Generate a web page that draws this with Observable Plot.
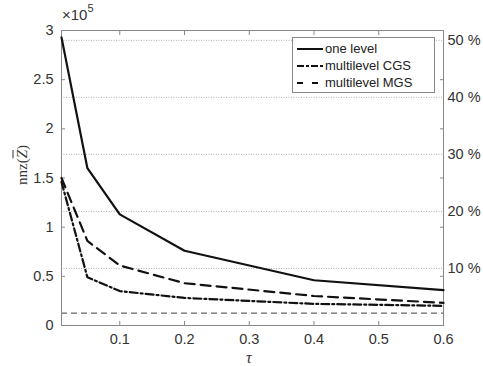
<!DOCTYPE html>
<html><head><meta charset="utf-8">
<script src="https://cdn.jsdelivr.net/npm/d3@7"></script>
<script src="https://cdn.jsdelivr.net/npm/@observablehq/plot@0.6"></script>
<style>
body{margin:0;background:#fff;font-family:"Liberation Sans",Arial,sans-serif;}
#wrap{position:relative;width:483px;height:366px;overflow:hidden;}
#wrap svg.plot{position:absolute;left:0;top:0;}
.ov{position:absolute;color:#333;white-space:nowrap;}
</style></head>
<body><div id="wrap"></div>
<script>
const tau = [0.01, 0.05, 0.1, 0.2, 0.4, 0.6];
const oneLevel = [2.93e5, 1.60e5, 1.13e5, 0.76e5, 0.46e5, 0.36e5];
const multiCGS = [1.46e5, 0.49e5, 0.35e5, 0.28e5, 0.22e5, 0.20e5];
const multiMGS = [1.50e5, 0.86e5, 0.61e5, 0.43e5, 0.30e5, 0.23e5];
const seriesNames = ["one level", "multilevel CGS", "multilevel MGS"];
const refLevel = 0.125e5;
const totalNnz = 5.8e5;
const pctTicks = [10, 20, 30, 40, 50];
const xTicks = [0.1, 0.2, 0.3, 0.4, 0.5, 0.6];
const yTicks = [0, 0.5e5, 1e5, 1.5e5, 2e5, 2.5e5, 3e5];
const yTickLabels = ["0", "0.5", "1", "1.5", "2", "2.5", "3"];

const dashes = [null, "8,3,2,3", "10,6"];
const seriesVals = [oneLevel, multiCGS, multiMGS];
const data = seriesNames.flatMap((s, i) => tau.map((t, j) => ({s, t, v: seriesVals[i][j]})));

const pctVals = pctTicks.map(p => p / 100 * totalNnz);
const chart = Plot.plot({
  width: 483, height: 366,
  marginLeft: 61, marginRight: 40, marginTop: 30, marginBottom: 41,
  style: {fontFamily: '"Liberation Sans", Arial, sans-serif', fontSize: "14.5px", color: "#333", background: "transparent"},
  x: {domain: [0.01, 0.6]},
  y: {domain: [0, 3e5]},
  marks: [
    Plot.ruleY(pctVals, {stroke: "#b0b0b0", strokeDasharray: "1,1.5", strokeWidth: 1}),
    Plot.ruleY([refLevel], {stroke: "#666", strokeDasharray: "6,4", strokeWidth: 1.2}),
    Plot.frame({stroke: "#888", strokeWidth: 1}),
    Plot.axisY(yTicks, {anchor: "left", tickSize: -4, tickPadding: 12, tickFormat: (d, i) => yTickLabels[i], stroke: "#888", label: null}),
    Plot.axisY(yTicks, {anchor: "right", tickSize: -4, tickFormat: () => "", stroke: "#888", label: null}),
    Plot.axisY(pctVals, {anchor: "right", tickSize: 0, tickPadding: 4, tickFormat: d => Math.round(d / totalNnz * 100) + " %", label: null}),
    Plot.axisX(xTicks, {anchor: "bottom", tickSize: -4, tickPadding: 12, tickFormat: d => d.toFixed(1), stroke: "#888", label: null}),
    Plot.axisX(xTicks, {anchor: "top", tickSize: -4, tickFormat: () => "", stroke: "#888", label: null}),
    ...seriesNames.map((s, i) => Plot.line(data.filter(d => d.s === s), {x: "t", y: "v", stroke: "#111", strokeWidth: 2.2, strokeDasharray: dashes[i]}))
  ]
});
chart.classList.add("plot");
const wrap = document.getElementById("wrap");
wrap.appendChild(chart);

function ov(html, css) {
  const d = document.createElement("div");
  d.className = "ov"; d.innerHTML = html; d.style.cssText += css; wrap.appendChild(d); return d;
}
ov('×10<sup style="font-size:11px;position:relative;top:-2px">5</sup>', "left:62px;top:4px;font-size:15px;");
ov('nnz(<span style="font-style:italic;text-decoration:overline">Z</span>)', 'left:2px;top:165px;font-family:"Liberation Serif",serif;font-size:15px;transform:translate(0,-50%) rotate(-90deg);transform-origin:center;width:40px;text-align:center;');
ov('τ', 'left:246px;top:349px;font-family:"Liberation Serif",serif;font-style:italic;font-size:16px;');

// legend
const lg = document.createElement("div");
lg.style.cssText = "position:absolute;left:292px;top:37px;width:141px;height:54px;border:1px solid #888;background:#fff;font-size:13px;color:#222;";
seriesNames.forEach((s, i) => {
  const row = document.createElement("div");
  row.style.cssText = "display:flex;align-items:center;height:17px;margin-left:4px;" + (i === 0 ? "margin-top:2px;" : "");
  row.innerHTML = `<svg width="28" height="10"><line x1="0" y1="5" x2="26" y2="5" stroke="#111" stroke-width="2" ${dashes[i] ? `stroke-dasharray="${i===1?'7,2,3,2':'6,9'}"` : ""}/></svg><span>${s}</span>`;
  lg.appendChild(row);
});
wrap.appendChild(lg);
</script></body></html>
